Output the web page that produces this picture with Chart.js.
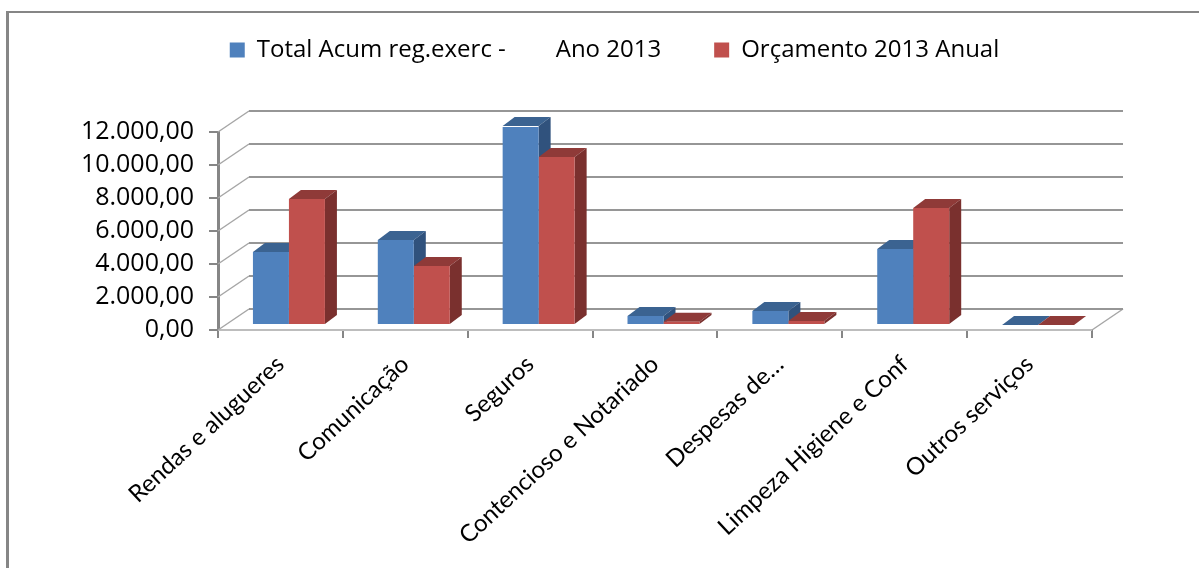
<!DOCTYPE html>
<html>
<head>
<meta charset="utf-8">
<style>
  html, body { margin: 0; padding: 0; background: #fff; }
  canvas { display: block; }
</style>
<script src="https://cdn.jsdelivr.net/npm/chart.js@4"></script>
</head>
<body>
<canvas id="grafico" width="1199" height="568"></canvas>
<script>
var categorias = ['Rendas e alugueres', 'Comunicação', 'Seguros', 'Contencioso e Notariado', 'Despesas de…', 'Limpeza Higiene e Conf', 'Outros serviços'];
var totalAcum = [4420, 5150, 12060, 550, 850, 4600, 0];
var orcamento = [7640, 3580, 10180, 200, 250, 7090, 0];
var tickLabels = ['0,00', '2.000,00', '4.000,00', '6.000,00', '8.000,00', '10.000,00', '12.000,00'];
var nomeTotal = 'Total Acum reg.exerc -        Ano 2013';
var nomeOrc = 'Orçamento 2013 Anual';

var cinza = '#868686';
// bars sit a bit inside the floor, the wall is further back
var barShift = { x: 8.5, y: -5 };
var barDepth = { x: 12, y: -9 };
var wallDepth = { x: 31, y: -21 };
var faces = [
    { top: '#3b6391', side: '#30527d' },
    { top: '#8f3a38', side: '#7a302e' }
];

function poly(ctx, pts, color) {
    ctx.fillStyle = color;
    ctx.beginPath();
    ctx.moveTo(pts[0][0], pts[0][1]);
    for (var i = 1; i < pts.length; i++) ctx.lineTo(pts[i][0], pts[i][1]);
    ctx.closePath();
    ctx.fill();
}

var frame3d = {
    id: 'frame3d',
    afterLayout: function (chart) {
        // legend lives high above the plot, layout alone can't leave that gap
        chart.legend.top = -15;
        chart.legend.left = 137;
        chart.legend.right = 1092;
    },
    beforeDraw: function (chart) {
        var ctx = chart.ctx;
        ctx.save();
        ctx.fillStyle = cinza;
        ctx.fillRect(6, 11, 1193, 2);
        ctx.fillRect(6, 11, 3, 557);
        ctx.restore();
    },
    beforeDatasetsDraw: function (chart) {
        var ctx = chart.ctx;
        var a = chart.chartArea;
        var yScale = chart.scales.y;
        ctx.save();
        // floor edges
        ctx.strokeStyle = '#bdbdbd';
        ctx.lineWidth = 2;
        ctx.beginPath();
        ctx.moveTo(a.left, a.bottom);
        ctx.lineTo(a.right, a.bottom);
        ctx.stroke();
        ctx.strokeStyle = '#a6a6a6';
        ctx.lineWidth = 1.5;
        ctx.beginPath();
        ctx.moveTo(a.right, a.bottom);
        ctx.lineTo(a.right + wallDepth.x, a.bottom + wallDepth.y);
        ctx.stroke();
        // diagonal on the side wall, then the line on the back wall
        yScale.ticks.forEach(function (t) {
            var py = yScale.getPixelForValue(t.value);
            ctx.strokeStyle = '#a6a6a6';
            ctx.lineWidth = 1.5;
            ctx.beginPath();
            ctx.moveTo(a.left, py);
            ctx.lineTo(a.left + wallDepth.x, py + wallDepth.y);
            ctx.stroke();
            ctx.strokeStyle = '#969696';
            ctx.lineWidth = 2;
            ctx.beginPath();
            ctx.moveTo(a.left + wallDepth.x, py + wallDepth.y);
            ctx.lineTo(a.right + wallDepth.x, py + wallDepth.y);
            ctx.stroke();
        });
        ctx.restore();

        ctx.save();
        ctx.translate(barShift.x, barShift.y);
        [0, 1].forEach(function (d) {
            chart.getDatasetMeta(d).data.forEach(function (bar) {
                var l = bar.x - bar.width / 2;
                var r = bar.x + bar.width / 2;
                var dx = barDepth.x, dy = barDepth.y;
                poly(ctx, [[l, bar.y], [r, bar.y], [r + dx, bar.y + dy], [l + dx, bar.y + dy]], faces[d].top);
                poly(ctx, [[r, bar.y], [r + dx, bar.y + dy], [r + dx, bar.base + dy], [r, bar.base]], faces[d].side);
            });
        });
        // the fronts drawn by the chart use the same shift, see afterDatasetsDraw
    },
    afterDatasetsDraw: function (chart) {
        chart.ctx.restore();
    }
};

new Chart(document.getElementById('grafico'), {
    type: 'bar',
    data: {
        labels: categorias,
        datasets: [
            { label: nomeTotal, data: totalAcum, backgroundColor: '#4f81bd', borderWidth: 0 },
            { label: nomeOrc, data: orcamento, backgroundColor: '#c0504d', borderWidth: 0 }
        ]
    },
    plugins: [frame3d],
    options: {
        responsive: false,
        animation: false,
        layout: { padding: { top: 0, left: 0, right: 107, bottom: 0 } },
        datasets: { bar: { categoryPercentage: 0.5765, barPercentage: 1 } },
        plugins: {
            tooltip: { enabled: false },
            legend: {
                position: 'top',
                labels: {
                    boxWidth: 15,
                    boxHeight: 15,
                    padding: 53,
                    color: '#000',
                    font: { family: '"Open Sans"', size: 24 }
                }
            }
        },
        scales: {
            x: {
                afterFit: function (s) { s.height = 238; },
                grid: { drawOnChartArea: false, color: cinza, lineWidth: 2, tickLength: 8 },
                border: { display: false },
                ticks: {
                    autoSkip: false,
                    maxRotation: 43,
                    minRotation: 43,
                    padding: 12,
                    color: '#000',
                    font: { family: 'Lato', size: 24 }
                }
            },
            y: {
                min: 0,
                max: 12000,
                afterFit: function (s) { s.width = 218; s.paddingTop = 132; },
                grid: { drawOnChartArea: false, color: cinza, lineWidth: 2, tickLength: 9 },
                border: { display: true, color: cinza, width: 3 },
                ticks: {
                    stepSize: 2000,
                    padding: 15,
                    color: '#000',
                    font: { family: '"Open Sans"', size: 25 },
                    callback: function (v) { return tickLabels[v / 2000]; }
                }
            }
        }
    }
});
</script>
</body>
</html>
